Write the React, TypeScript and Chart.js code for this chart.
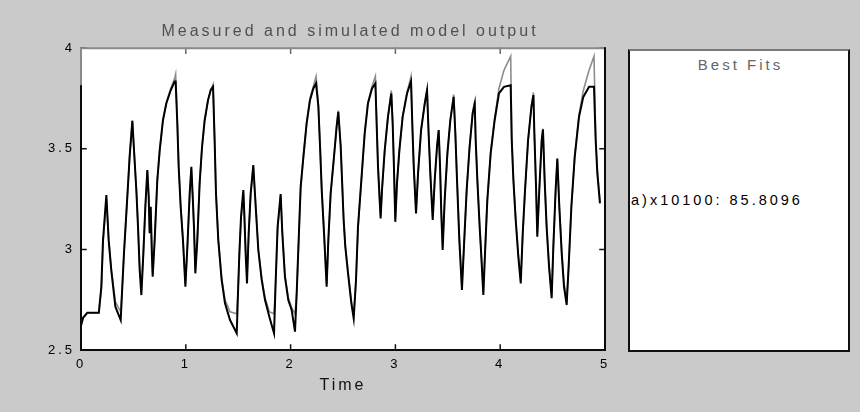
import React, { useEffect, useRef } from 'react';
import { Chart, registerables } from 'chart.js';

Chart.register(...registerables);

// ---------------- data ----------------
const TIME = [
  0.000, 0.020, 0.060, 0.170, 0.194, 0.210, 0.242, 0.251, 0.264, 0.289, 0.328, 0.379,
  0.391, 0.410, 0.442, 0.464, 0.490, 0.506, 0.528, 0.544, 0.560, 0.576, 0.595, 0.614,
  0.633, 0.646, 0.655, 0.665, 0.677, 0.684, 0.703, 0.728, 0.751, 0.782, 0.814, 0.856,
  0.894, 0.903, 0.919, 0.932, 0.951, 0.973, 0.996, 1.015, 1.037, 1.053, 1.066, 1.078,
  1.091, 1.110, 1.132, 1.155, 1.180, 1.212, 1.237, 1.260, 1.275, 1.288, 1.310, 1.342,
  1.374, 1.422, 1.486, 1.498, 1.511, 1.527, 1.549, 1.558, 1.571, 1.584, 1.600, 1.619,
  1.644, 1.667, 1.692, 1.724, 1.756, 1.797, 1.842, 1.858, 1.876, 1.905, 1.921, 1.946,
  1.978, 2.010, 2.042, 2.058, 2.077, 2.096, 2.122, 2.153, 2.185, 2.217, 2.243, 2.265,
  2.281, 2.297, 2.319, 2.344, 2.360, 2.382, 2.414, 2.439, 2.455, 2.478, 2.506, 2.522,
  2.548, 2.580, 2.602, 2.624, 2.643, 2.675, 2.707, 2.738, 2.777, 2.809, 2.821, 2.834,
  2.850, 2.859, 2.872, 2.898, 2.929, 2.961, 2.974, 2.986, 2.999, 3.015, 3.038, 3.069,
  3.111, 3.149, 3.162, 3.175, 3.197, 3.216, 3.245, 3.280, 3.302, 3.317, 3.333, 3.356,
  3.375, 3.397, 3.413, 3.426, 3.438, 3.451, 3.470, 3.496, 3.524, 3.556, 3.572, 3.588,
  3.610, 3.635, 3.654, 3.680, 3.708, 3.737, 3.757, 3.766, 3.782, 3.804, 3.820, 3.839,
  3.855, 3.877, 3.909, 3.947, 3.988, 4.036, 4.100, 4.110, 4.126, 4.148, 4.173, 4.196,
  4.215, 4.237, 4.266, 4.298, 4.317, 4.326, 4.342, 4.354, 4.373, 4.396, 4.408, 4.424,
  4.443, 4.466, 4.491, 4.507, 4.529, 4.545, 4.564, 4.587, 4.609, 4.634, 4.653, 4.679,
  4.711, 4.752, 4.793, 4.848, 4.895, 4.911, 4.927, 4.952,
];

const MEASURED = [
  2.620, 2.660, 2.685, 2.685, 2.814, 3.046, 3.270, 3.179, 3.046, 2.897, 2.715, 2.649,
  2.781, 2.980, 3.262, 3.460, 3.639, 3.493, 3.295, 3.112, 2.897, 2.773, 2.980, 3.212,
  3.394, 3.262, 3.080, 3.212, 2.964, 2.864, 3.046, 3.344, 3.493, 3.642, 3.725, 3.791,
  3.835, 3.835, 3.626, 3.410, 3.212, 3.046, 2.814, 3.013, 3.278, 3.410, 3.262, 3.112,
  2.881, 3.046, 3.328, 3.510, 3.642, 3.742, 3.791, 3.808, 3.543, 3.278, 3.046, 2.848,
  2.732, 2.649, 2.583, 2.781, 2.980, 3.162, 3.295, 3.179, 2.980, 2.831, 3.080, 3.278,
  3.419, 3.212, 2.997, 2.848, 2.748, 2.665, 2.583, 2.848, 3.112, 3.275, 3.080, 2.864,
  2.748, 2.699, 2.591, 2.781, 3.046, 3.311, 3.460, 3.626, 3.742, 3.800, 3.825, 3.709,
  3.510, 3.295, 3.080, 2.814, 3.046, 3.278, 3.460, 3.609, 3.684, 3.510, 3.146, 3.013,
  2.881, 2.732, 2.657, 2.848, 3.112, 3.344, 3.576, 3.725, 3.800, 3.825, 3.626, 3.410,
  3.245, 3.154, 3.295, 3.493, 3.659, 3.775, 3.626, 3.410, 3.137, 3.328, 3.493, 3.659,
  3.775, 3.835, 3.609, 3.410, 3.179, 3.378, 3.593, 3.725, 3.791, 3.576, 3.378, 3.146,
  3.344, 3.510, 3.593, 3.410, 3.179, 2.997, 3.245, 3.477, 3.642, 3.758, 3.576, 3.344,
  3.046, 2.798, 3.013, 3.295, 3.510, 3.675, 3.725, 3.543, 3.344, 3.112, 2.964, 2.773,
  2.980, 3.245, 3.477, 3.642, 3.775, 3.808, 3.816, 3.543, 3.344, 3.146, 2.964, 2.831,
  3.080, 3.295, 3.543, 3.709, 3.767, 3.576, 3.311, 3.063, 3.295, 3.543, 3.596, 3.344,
  3.112, 2.914, 2.757, 3.013, 3.295, 3.452, 3.212, 2.980, 2.814, 2.724, 2.914, 3.212,
  3.460, 3.659, 3.758, 3.808, 3.808, 3.543, 3.378, 3.229,
];

const SIMULATED = [
  2.620, 2.660, 2.685, 2.685, 2.800, 3.030, 3.250, 3.170, 3.050, 2.900, 2.740, 2.690,
  2.790, 2.980, 3.260, 3.460, 3.640, 3.490, 3.300, 3.120, 2.910, 2.800, 2.980, 3.210,
  3.390, 3.260, 3.090, 3.210, 2.970, 2.880, 3.050, 3.340, 3.490, 3.640, 3.730, 3.800,
  3.850, 3.870, 3.640, 3.420, 3.220, 3.050, 2.830, 3.010, 3.270, 3.400, 3.260, 3.110,
  2.900, 3.050, 3.330, 3.510, 3.640, 3.740, 3.790, 3.820, 3.550, 3.280, 3.050, 2.860,
  2.750, 2.690, 2.680, 2.790, 2.970, 3.150, 3.280, 3.190, 3.000, 2.860, 3.070, 3.270,
  3.410, 3.220, 3.000, 2.860, 2.760, 2.690, 2.680, 2.840, 3.100, 3.270, 3.090, 2.870,
  2.760, 2.710, 2.680, 2.780, 3.040, 3.300, 3.460, 3.630, 3.750, 3.810, 3.860, 3.720,
  3.520, 3.300, 3.090, 2.830, 3.040, 3.270, 3.460, 3.610, 3.690, 3.520, 3.160, 3.020,
  2.890, 2.740, 2.670, 2.840, 3.100, 3.340, 3.580, 3.730, 3.810, 3.860, 3.640, 3.420,
  3.250, 3.170, 3.290, 3.490, 3.660, 3.790, 3.630, 3.420, 3.150, 3.320, 3.490, 3.660,
  3.780, 3.860, 3.620, 3.420, 3.190, 3.370, 3.590, 3.730, 3.800, 3.580, 3.390, 3.160,
  3.340, 3.510, 3.590, 3.420, 3.190, 3.020, 3.240, 3.470, 3.640, 3.770, 3.580, 3.350,
  3.060, 2.820, 3.010, 3.290, 3.510, 3.680, 3.740, 3.550, 3.350, 3.120, 2.970, 2.790,
  2.980, 3.240, 3.480, 3.650, 3.800, 3.890, 3.960, 3.560, 3.350, 3.150, 2.970, 2.850,
  3.070, 3.290, 3.540, 3.710, 3.780, 3.580, 3.320, 3.080, 3.290, 3.540, 3.600, 3.350,
  3.120, 2.920, 2.780, 3.010, 3.290, 3.450, 3.220, 2.990, 2.830, 2.750, 2.910, 3.210,
  3.460, 3.670, 3.790, 3.890, 3.960, 3.560, 3.390, 3.240,
];

const X_TICKS = [0, 1, 2, 3, 4, 5];
const Y_TICKS = [2.5, 3, 3.5, 4];

const TITLE = 'Measured and simulated model output';
const X_LABEL = 'Time';
const FIT_TITLE = 'Best Fits';
const FIT_TEXT = 'a)x10100: 85.8096';

// ---------------- styling ----------------
const FONT = "'Liberation Sans', Arial, Helvetica, sans-serif";
const PAGE_BG = '#cacaca';

const framePlugin = {
  id: 'matlabFrame',
  beforeDraw(chart: any) {
    const { ctx, chartArea: a } = chart;
    ctx.save();
    ctx.fillStyle = '#ffffff';
    ctx.fillRect(a.left, a.top, a.right - a.left, a.bottom - a.top);
    ctx.restore();
    (ctx as any).letterSpacing = '3px';
  },
  afterDraw(chart: any) {
    const { ctx, chartArea: a, scales } = chart;
    (ctx as any).letterSpacing = '0px';
    ctx.save();
    ctx.lineCap = 'square';
    ctx.lineWidth = 1.5;
    const tl = 5;
    scales.x.ticks.forEach((t: any) => {
      const px = scales.x.getPixelForValue(t.value);
      ctx.strokeStyle = '#111';
      ctx.beginPath();
      ctx.moveTo(px, a.bottom);
      ctx.lineTo(px, a.bottom - tl);
      ctx.stroke();
      ctx.strokeStyle = '#666';
      ctx.beginPath();
      ctx.moveTo(px, a.top);
      ctx.lineTo(px, a.top + tl);
      ctx.stroke();
    });
    ctx.strokeStyle = '#111';
    scales.y.ticks.forEach((t: any) => {
      const py = scales.y.getPixelForValue(t.value);
      ctx.beginPath();
      ctx.moveTo(a.left, py);
      ctx.lineTo(a.left + tl, py);
      ctx.moveTo(a.right, py);
      ctx.lineTo(a.right - tl, py);
      ctx.stroke();
    });
    // frame
    ctx.lineWidth = 2;
    ctx.strokeStyle = '#8a8a8a';
    ctx.beginPath();
    ctx.moveTo(a.left, a.top);
    ctx.lineTo(a.right, a.top);
    ctx.moveTo(a.left, a.top);
    ctx.lineTo(a.left, a.top + 38);
    ctx.stroke();
    ctx.strokeStyle = '#0a0a0a';
    ctx.beginPath();
    ctx.moveTo(a.left, a.top + 38);
    ctx.lineTo(a.left, a.bottom);
    ctx.lineTo(a.right, a.bottom);
    ctx.lineTo(a.right, a.top);
    ctx.stroke();
    ctx.restore();
  },
};

export default function App() {
  const canvasRef = useRef<HTMLCanvasElement | null>(null);

  useEffect(() => {
    const canvas = canvasRef.current;
    if (!canvas) return;
    const measured = TIME.map((t, i) => ({ x: t, y: MEASURED[i] }));
    const simulated = TIME.map((t, i) => ({ x: t, y: SIMULATED[i] }));

    const chart = new Chart(canvas, {
      type: 'line',
      data: {
        datasets: [
          {
            label: 'Measured',
            data: measured,
            borderColor: '#000000',
            borderWidth: 2,
            pointRadius: 0,
            tension: 0,
            order: 0,
          },
          {
            label: 'Simulated',
            data: simulated,
            borderColor: '#8c8c8c',
            borderWidth: 1.6,
            pointRadius: 0,
            tension: 0,
            order: 1,
          },
        ],
      },
      options: {
        animation: false,
        responsive: false,
        devicePixelRatio: 1,
        layout: { padding: { left: 0, right: 0, top: 0, bottom: 0 } },
        plugins: {
          legend: { display: false },
          tooltip: { enabled: false },
          title: {
            display: true,
            text: TITLE,
            color: '#505050',
            font: { family: FONT, size: 16, weight: 'normal' },
            padding: { top: 22, bottom: 7 },
          },
        },
        scales: {
          x: {
            type: 'linear',
            min: X_TICKS[0],
            max: X_TICKS[X_TICKS.length - 1],
            afterBuildTicks: (s: any) => {
              s.ticks = X_TICKS.map((v) => ({ value: v }));
            },
            afterFit: (s: any) => {
              s.height = 62;
            },
            grid: { display: false, drawTicks: false },
            border: { display: false },
            ticks: {
              color: '#000',
              font: { family: FONT, size: 13 },
              padding: 7,
              maxRotation: 0,
              autoSkip: false,
              callback: (v: any) => String(Number(v)),
            },
            title: {
              display: true,
              text: X_LABEL,
              color: '#111',
              font: { family: FONT, size: 16 },
              padding: { top: 0, bottom: 17 },
            },
          },
          y: {
            type: 'linear',
            position: 'left',
            min: Y_TICKS[0],
            max: Y_TICKS[Y_TICKS.length - 1],
            afterBuildTicks: (s: any) => {
              s.ticks = Y_TICKS.map((v) => ({ value: v }));
            },
            afterFit: (s: any) => {
              s.width = 81;
            },
            grid: { display: false, drawTicks: false },
            border: { display: false },
            ticks: {
              color: '#000',
              font: { family: FONT, size: 13 },
              padding: 6,
              autoSkip: false,
              callback: (v: any) => String(Number(v)),
            },
          },
          // empty right-hand gutter (space under the "Best Fits" panel)
          gutter: {
            type: 'linear',
            position: 'right',
            min: Y_TICKS[0],
            max: Y_TICKS[Y_TICKS.length - 1],
            afterFit: (s: any) => {
              s.width = 95;
            },
            grid: { display: false, drawTicks: false },
            border: { display: false },
            ticks: { display: false },
          },
        },
      },
      plugins: [framePlugin],
    });
    return () => chart.destroy();
  }, []);

  return (
    <div
      style={{
        position: 'fixed',
        left: 0,
        top: 0,
        width: 860,
        height: 412,
        background: PAGE_BG,
        overflow: 'hidden',
        fontFamily: FONT,
      }}
    >
      <canvas
        ref={canvasRef}
        width={700}
        height={412}
        style={{ position: 'absolute', left: 0, top: 0, width: 700, height: 412 }}
      />
      <div
        style={{
          position: 'absolute',
          left: 628,
          top: 49,
          width: 222,
          height: 303,
          boxSizing: 'border-box',
          background: '#ffffff',
          borderLeft: '2px solid #111',
          borderRight: '2px solid #111',
          borderBottom: '2px solid #111',
          borderTop: '2px solid #7a7a7a',
        }}
      >
        <div
          style={{
            position: 'absolute',
            left: 0,
            right: 0,
            top: 5,
            lineHeight: '18px',
            textAlign: 'center',
            fontSize: 15,
            color: '#666',
            letterSpacing: '3px',
            paddingLeft: 3,
          }}
        >
          {FIT_TITLE}
        </div>
        <div
          style={{
            position: 'absolute',
            left: 1,
            top: 140,
            lineHeight: '18px',
            fontSize: 14.5,
            color: '#000',
            letterSpacing: '3px',
            whiteSpace: 'nowrap',
          }}
        >
          {FIT_TEXT}
        </div>
      </div>
    </div>
  );
}
